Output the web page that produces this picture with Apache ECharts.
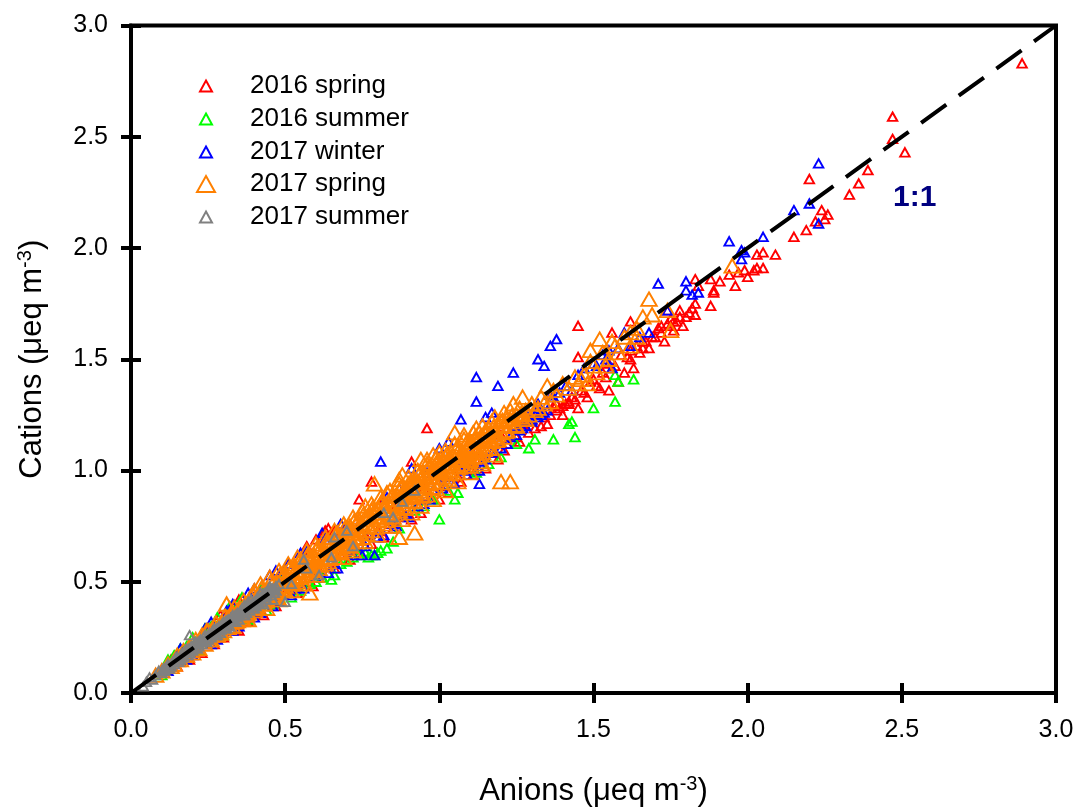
<!DOCTYPE html>
<html>
<head>
<meta charset="utf-8">
<style>html,body{margin:0;padding:0;background:#fff}#chart{width:1079px;height:811px}</style>
<script src="https://cdn.jsdelivr.net/npm/echarts@6/dist/echarts.min.js"></script>
</head>
<body>
<div id="chart"></div>
<script>
// [anions, cations]; the dense core is estimated
const spring2016 = [
  [2.89,2.83],[2.47,2.59],[2.47,2.49],[2.51,2.43],[2.39,2.35],[2.36,2.29],[2.33,2.24],[2.2,2.31],[2.24,2.17],[2.26,2.15],
  [2.22,2.12],[2.25,2.13],[2.19,2.08],[2.15,2.05],[2.09,1.97],[2.05,1.98],[2.03,1.97],[2.05,1.91],[2.03,1.91],[2.02,1.9],
  [1.99,1.9],[1.97,1.89],[2.0,1.87],[1.96,1.83],[1.94,1.88],[1.91,1.85],[1.88,1.86],[1.89,1.81],[1.89,1.8],[1.88,1.74],
  [1.83,1.75],[1.82,1.73],[1.83,1.7],[1.81,1.71],[1.83,1.86],[1.84,1.83],[1.8,1.69],[1.79,1.65],[1.78,1.72],[1.77,1.67],
  [1.76,1.63],[1.75,1.68],[1.74,1.72],[1.73,1.58],[1.72,1.65],[1.7,1.6],[1.68,1.55],[1.66,1.58],[1.65,1.53],[1.63,1.46],
  [1.62,1.67],[1.62,1.5],[1.6,1.44],[1.58,1.4],[1.56,1.62],[1.55,1.36],[1.54,1.42],[1.52,1.37],[1.5,1.41],[1.48,1.33],
  [1.46,1.36],[1.45,1.65],[1.45,1.51],[1.45,1.28],[1.43,1.33],[1.42,1.3],[1.4,1.25],[1.38,1.3],[1.35,1.21],[1.32,1.27],
  [1.3,1.23],[1.29,1.17],[1.27,1.21],[1.25,1.15],[1.24,1.19],[1.22,1.12],[1.2,1.16],[1.18,1.08],[1.16,1.12],[1.14,1.05],
  [1.12,1.09],[1.1,1.01],[1.08,1.05],[1.06,0.97],[1.04,1.01],[1.02,0.93],[0.99,0.96],[0.97,0.88],[0.96,1.19],[0.95,0.92],
  [0.93,0.85],[0.91,1.04],[0.9,0.87],[0.88,0.79],[0.86,0.84],[0.84,0.76],[0.82,0.87],[0.8,0.73],[0.78,0.95],[0.76,0.71],
  [0.74,0.87],[0.72,0.67],[0.7,0.75],[0.68,0.62],[0.65,0.72],[0.63,0.73],[0.61,0.55],[0.58,0.63],[0.56,0.5],[0.53,0.58],
  [0.5,0.45],[0.48,0.53],[0.45,0.41],[0.42,0.46],[0.4,0.36],[0.37,0.41],[0.34,0.31],[0.31,0.35],[0.28,0.25],[0.25,0.29],
  [0.22,0.2],[0.19,0.22],[0.16,0.14],[0.13,0.15],[0.1,0.09],
  // clusters under the line
  [1.78,1.69],[1.76,1.67],[1.75,1.65],[1.74,1.66],[1.72,1.62],[1.71,1.64],[1.69,1.6],[1.67,1.58],[1.66,1.55],[1.64,1.56],
  [1.62,1.54],[1.61,1.51],[1.59,1.52],[1.57,1.47],[1.55,1.48],[1.53,1.44],[1.51,1.38],[1.49,1.4],[1.47,1.35],[1.44,1.32],
  [1.42,1.31],[1.41,1.3],[1.4,1.29],[1.39,1.28],[1.38,1.27],[1.37,1.29],[1.36,1.25],[1.34,1.24],[1.33,1.2],[1.31,1.19],
  [1.26,1.13],[1.21,1.09],[1.19,1.05],[1.15,1.01],[1.11,0.98],[1.07,0.95],[1.03,0.9],[1.0,0.87],[0.94,0.81],[0.91,0.78],
  [0.85,0.74],[0.82,0.7],[0.78,0.67],[0.74,0.63],[0.71,0.6],[0.66,0.56],[0.62,0.52],[0.59,0.48],[0.54,0.45],[0.47,0.39],
  [0.43,0.35],[0.38,0.32],[0.35,0.28],[0.3,0.25],[0.27,0.22],[0.23,0.18],[0.19,0.15],[0.15,0.12],
  [0.64,0.74],[0.62,0.71],[0.6,0.69],[0.57,0.66],[0.66,0.73],[0.35,0.42],[0.33,0.39],[0.29,0.35]
];
const summer2016 = [
  [1.63,1.41],[1.58,1.4],[1.57,1.43],[1.57,1.31],[1.5,1.28],[1.44,1.15],[1.42,1.21],[1.43,1.22],[1.37,1.14],[1.31,1.14],
  [1.29,1.1],[1.25,1.12],[1.2,1.06],[1.16,1.03],[1.12,0.99],[1.06,0.9],[1.05,0.87],[1.0,0.78],[1.03,0.91],[0.98,0.87],
  [0.95,0.84],[0.92,0.82],[0.87,0.74],[0.85,0.68],[0.83,0.65],[0.8,0.63],[0.79,0.62],[0.76,0.63],[0.72,0.61],[0.68,0.58],
  [0.65,0.51],[0.62,0.52],[0.58,0.49],[0.55,0.46],[0.5,0.54],[0.46,0.4],[0.42,0.47],[0.38,0.33],[0.34,0.38],[0.3,0.26],
  [0.26,0.3],[0.22,0.19],[0.18,0.21],[0.14,0.17],[0.1,0.08],
  [0.81,0.64],[0.78,0.62],[0.77,0.61],[0.74,0.62],[0.7,0.59],[0.66,0.53],[0.6,0.5],[0.52,0.43],[0.48,0.41],[0.44,0.37],
  [0.36,0.43],[0.32,0.39],[0.28,0.34],[0.24,0.29],[0.2,0.25],[0.16,0.2],[0.12,0.15]
];
const winter2017 = [
  [2.23,2.38],[2.15,2.17],[2.2,2.2],[2.23,2.11],[2.05,2.05],[1.94,2.03],[1.98,1.99],[1.98,1.95],[1.99,1.98],[1.8,1.85],
  [1.8,1.81],[1.82,1.79],[1.84,1.8],[1.71,1.84],[1.74,1.72],[1.68,1.62],[1.65,1.6],[1.62,1.56],[1.6,1.62],[1.58,1.55],
  [1.56,1.46],[1.54,1.5],[1.5,1.48],[1.47,1.46],[1.45,1.43],[1.43,1.36],[1.38,1.59],[1.36,1.56],[1.36,1.34],[1.34,1.47],
  [1.32,1.5],[1.32,1.3],[1.3,1.22],[1.28,1.26],[1.26,1.18],[1.24,1.44],[1.24,1.2],[1.22,1.12],[1.19,1.38],[1.18,1.15],
  [1.17,1.26],[1.15,1.24],[1.15,1.05],[1.13,1.0],[1.13,0.94],[1.12,1.42],[1.12,1.31],[1.1,1.07],[1.08,1.0],[1.07,1.23],
  [1.06,1.02],[1.03,1.13],[1.02,0.97],[1.0,1.1],[0.98,0.91],[0.96,0.99],[0.93,0.84],[0.91,1.01],[0.89,0.8],[0.87,0.92],
  [0.85,0.76],[0.83,0.88],[0.81,1.04],[0.8,0.7],[0.79,0.62],[0.77,0.71],[0.75,0.62],[0.73,0.74],[0.71,0.64],[0.68,0.76],
  [0.66,0.58],[0.63,0.69],[0.6,0.52],[0.57,0.64],[0.54,0.47],[0.51,0.58],[0.48,0.41],[0.45,0.53],[0.42,0.36],[0.38,0.45],
  [0.35,0.3],[0.31,0.37],[0.28,0.24],[0.24,0.29],[0.2,0.17],[0.16,0.2],[0.12,0.1],
  // clusters under the line
  [1.35,1.27],[1.34,1.26],[1.33,1.25],[1.32,1.24],[1.31,1.25],[1.3,1.23],[1.29,1.22],[1.28,1.2],[1.27,1.19],[1.25,1.16],
  [1.23,1.15],[1.2,1.1],[1.17,1.08],[1.14,1.04],[1.11,1.01],[1.09,0.98],[1.05,0.94],[1.01,0.92],[0.97,0.87],[0.95,0.85],
  [0.9,0.79],[0.86,0.75],[0.82,0.71],[0.76,0.66],[0.72,0.62],[0.67,0.56],[0.64,0.54],[0.56,0.47],[0.52,0.44],[0.46,0.39],
  [0.4,0.34],[0.33,0.28],[0.26,0.22],[0.18,0.15],[0.62,0.72],[0.55,0.63],[0.47,0.55],[0.4,0.47],[0.33,0.4],[0.26,0.32],
  [1.55,1.54],[1.53,1.52],[1.51,1.47],[1.41,1.38],[1.39,1.35],[1.37,1.33]
];
const spring2017 = [
  [1.95,1.92],[1.68,1.77],[1.75,1.63],[1.74,1.72],[1.69,1.7],[1.66,1.69],[1.64,1.6],[1.62,1.56],[1.56,1.58],[1.55,1.5],
  [1.52,1.59],[1.5,1.47],[1.49,1.54],[1.48,1.39],[1.47,1.43],[1.45,1.39],[1.35,1.38],[1.34,1.3],[1.31,1.27],[1.29,1.25],
  [1.27,1.33],[1.26,1.24],[1.25,1.2],[1.23,1.27],[1.23,0.95],[1.22,1.18],[1.2,1.22],[1.2,0.95],[1.19,1.14],[1.18,1.18],
  [1.17,1.22],[1.16,1.1],[1.15,1.16],[1.14,1.2],[1.13,1.08],[1.12,1.13],[1.11,1.17],[1.1,1.05],[1.09,1.1],[1.08,1.14],
  [1.07,1.03],[1.06,1.08],[1.05,1.17],[1.05,1.12],[1.04,1.0],[1.03,1.05],[1.02,1.09],[1.01,0.97],[1.0,1.02],[0.99,1.06],
  [0.98,1.07],[0.98,0.95],[0.97,0.99],[0.96,1.03],[0.95,0.92],[0.94,1.05],[0.94,0.96],[0.93,1.0],[0.92,0.72],[0.92,0.89],
  [0.91,0.93],[0.9,0.97],[0.89,0.86],[0.88,0.98],[0.88,0.9],[0.87,0.7],[0.87,0.94],[0.86,0.84],[0.85,0.87],[0.84,0.91],
  [0.83,0.81],[0.82,0.84],[0.81,0.88],[0.8,0.78],[0.79,0.94],[0.79,0.82],[0.78,0.85],[0.77,0.75],[0.76,0.79],[0.75,0.82],
  [0.74,0.72],[0.73,0.76],[0.72,0.79],[0.71,0.69],[0.7,0.73],[0.69,0.76],[0.68,0.66],[0.67,0.7],[0.66,0.73],[0.65,0.63],
  [0.64,0.67],[0.63,0.7],[0.62,0.6],[0.61,0.64],[0.6,0.67],[0.59,0.57],[0.58,0.45],[0.58,0.61],[0.57,0.64],[0.56,0.54],
  [0.55,0.58],[0.54,0.61],[0.53,0.51],[0.52,0.55],[0.51,0.58],[0.5,0.48],[0.49,0.52],[0.48,0.55],[0.47,0.45],[0.46,0.49],
  [0.45,0.52],[0.44,0.42],[0.43,0.46],[0.42,0.49],[0.41,0.39],[0.4,0.46],[0.39,0.43],[0.38,0.36],[0.37,0.4],[0.36,0.34],
  [0.35,0.38],[0.34,0.32],[0.33,0.36],[0.32,0.3],[0.31,0.4],[0.31,0.33],[0.3,0.28],[0.29,0.31],[0.28,0.26],[0.27,0.3],
  [0.26,0.24],[0.25,0.28],[0.24,0.22],[0.23,0.26],[0.22,0.2],[0.21,0.24],[0.2,0.18],[0.19,0.21],[0.18,0.17],[0.17,0.19],
  [0.16,0.15],[0.15,0.17],[0.14,0.13],[0.12,0.13],[0.1,0.1],[0.08,0.08],
  // second pass through the solid band
  [1.28,1.27],[1.27,1.23],[1.25,1.25],[1.24,1.22],[1.23,1.2],[1.22,1.23],[1.21,1.2],[1.2,1.17],[1.19,1.2],[1.18,1.15],
  [1.17,1.17],[1.16,1.14],[1.15,1.12],[1.14,1.14],[1.13,1.11],[1.12,1.09],[1.11,1.11],[1.1,1.08],[1.09,1.06],[1.08,1.08],
  [1.07,1.05],[1.06,1.03],[1.05,1.05],[1.04,1.03],[1.03,1.0],[1.02,1.02],[1.01,0.99],[1.0,0.97],[0.99,1.0],[0.98,0.97],
  [0.97,0.94],[0.96,0.96],[0.95,0.93],[0.94,0.91],[0.93,0.93],[0.92,0.9],[0.91,0.88],[0.9,0.9],[0.89,0.88],[0.88,0.85],
  [0.87,0.87],[0.86,0.85],[0.85,0.82],[0.84,0.84],[0.83,0.82],[0.82,0.79],[0.81,0.81],[0.8,0.79],[0.79,0.76],[0.78,0.78],
  [0.77,0.76],[0.76,0.73],[0.75,0.75],[0.74,0.73],[0.73,0.7],[0.72,0.72],[0.71,0.7],[0.7,0.67],[0.69,0.69],[0.68,0.67],
  [0.67,0.64],[0.66,0.66],[0.65,0.64],[0.64,0.61],[0.63,0.63],[0.62,0.61],[0.61,0.58],[0.6,0.6],[0.59,0.58],[0.58,0.55],
  [0.57,0.57],[0.56,0.55],[0.55,0.52],[0.54,0.54],[0.53,0.52],[0.52,0.49],[0.51,0.51],[0.5,0.5],[0.49,0.47],[0.48,0.48],
  [0.47,0.47],[0.46,0.44],[0.45,0.45],[0.44,0.44],[0.43,0.41],[0.42,0.42],[0.41,0.41],[0.4,0.38],[0.39,0.39],[0.38,0.38],
  [0.37,0.35],[0.36,0.36],[0.35,0.35],[0.34,0.33],[0.33,0.33],[0.32,0.32],[0.3,0.3],[0.29,0.28],[0.28,0.28],[0.27,0.27],
  [0.25,0.25],[0.23,0.23],[0.21,0.21],[0.19,0.19],[0.17,0.17],[0.15,0.15],[0.13,0.12],
  [1.16,1.19],[1.13,1.17],[1.09,1.13],[1.06,1.11],[1.02,1.06],[0.99,1.03],[0.95,0.99],[0.92,0.96],[0.88,0.93],[0.85,0.89],
  [0.81,0.85],[0.78,0.82],[0.74,0.78],[0.71,0.75],[0.67,0.72],[0.64,0.68],[0.6,0.64],[0.57,0.61],[0.53,0.57],[0.5,0.54],
  [1.13,1.04],[1.1,1.02],[1.06,0.99],[1.03,0.96],[0.99,0.92],[0.96,0.89],[0.92,0.86],[0.89,0.83],[0.85,0.79],[0.82,0.76],
  [0.78,0.73],[0.75,0.7],[0.71,0.66],[0.68,0.63],[0.64,0.59],[0.61,0.56],[0.57,0.53],[0.54,0.5],[0.5,0.46],[0.47,0.43],
  [0.43,0.4],[0.4,0.37],[0.36,0.33],[0.33,0.3],[0.29,0.27],
  // third pass, gaps between the rows above
  [1.265,1.255],[1.245,1.205],[1.235,1.245],[1.215,1.175],[1.205,1.225],[1.185,1.135],[1.175,1.195],[1.155,1.175],[1.145,1.095],[1.135,1.155],
  [1.125,1.065],[1.115,1.145],[1.105,1.125],[1.095,1.045],[1.085,1.115],[1.075,1.085],[1.065,1.015],[1.055,1.095],[1.045,1.065],[1.035,0.985],
  [1.025,1.075],[1.015,1.035],[1.005,0.945],[0.995,1.045],[0.985,1.015],[0.975,0.925],[0.965,1.015],[0.955,0.975],[0.945,0.885],[0.935,0.985],
  [0.925,0.945],[0.915,0.865],[0.905,0.945],[0.895,0.915],[0.885,0.835],[0.875,0.925],[0.865,0.885],[0.855,0.805],[0.845,0.885],[0.835,0.855],
  [0.825,0.775],[0.815,0.865],[0.805,0.825],[0.795,0.745],[0.785,0.835],[0.775,0.795],[0.765,0.715],[0.755,0.805],[0.745,0.765],[0.735,0.695],
  [0.725,0.775],[0.715,0.735],[0.705,0.665],[0.695,0.745],[0.685,0.705],[0.675,0.635],[0.665,0.715],[0.655,0.675],[0.645,0.605],[0.635,0.685],
  [0.625,0.645],[0.615,0.575],[0.605,0.655],[0.595,0.615],[0.585,0.555],[0.575,0.625],[0.565,0.585],[0.555,0.525],[0.545,0.595],[0.535,0.555],
  [0.525,0.495],[0.515,0.565],[0.505,0.525],[0.495,0.465],[0.485,0.535],[0.475,0.495],[0.465,0.435],[0.455,0.505],[0.445,0.465],[0.435,0.415],
  [0.425,0.475],[0.415,0.435],[0.405,0.385],[0.395,0.445],[0.385,0.405],[0.375,0.355],[0.365,0.415],[0.355,0.375],[0.345,0.325],[0.335,0.385],
  [0.325,0.345],[0.315,0.295],[0.305,0.345],[0.295,0.315],[0.285,0.27],[0.275,0.315],[0.265,0.285],[0.255,0.24],[0.245,0.28],[0.235,0.25],
  [1.21,1.15],[1.17,1.13],[1.14,1.08],[1.1,1.13],[1.07,1.07],[1.04,1.08],[1.01,1.05],[0.97,1.02],[0.94,0.9],[0.9,0.94],
  [0.87,0.82],[0.84,0.8],[0.8,0.83],[0.77,0.8],[0.73,0.68],[0.7,0.65],[0.66,0.61],[0.63,0.58],[0.59,0.55],[0.55,0.6],
  [1.26,1.28],[1.23,1.23],[1.19,1.16],[1.15,1.18],[1.11,1.06],[1.08,1.02],[1.03,1.03],[0.98,0.99],[0.93,0.95],[0.89,0.91],
  // upper part of the band and its edges
  [1.64,1.64],[1.62,1.62],[1.6,1.6],[1.58,1.53],[1.57,1.56],[1.54,1.47],[1.53,1.53],[1.51,1.44],[1.49,1.49],[1.46,1.41],
  [1.44,1.42],[1.42,1.37],[1.4,1.39],[1.38,1.34],[1.37,1.36],[1.36,1.31],[1.33,1.33],[1.32,1.28],[1.3,1.3],[1.28,1.23],
  [1.24,1.3],[1.21,1.26],[1.18,1.24],[1.12,1.19],[1.08,1.16],[1.0,1.08],[0.96,1.05],[0.87,0.96],[0.83,0.9],[0.76,0.84],
  [0.69,0.61],[0.72,0.64],[0.76,0.68],[0.8,0.71],[0.84,0.75],[0.88,0.78],[0.91,0.81],[0.94,0.84],[0.98,0.87],[1.02,0.91],
  [1.06,0.95],[1.1,0.99],[1.14,1.03],[1.18,1.07],[0.6,0.53],[0.56,0.49],[0.52,0.46],[0.48,0.42],[0.44,0.38],[0.38,0.33]
];
const summer2017 = [
  [0.92,0.91],[0.88,0.86],[0.85,0.79],[0.82,0.81],[0.72,0.66],[0.7,0.73],[0.66,0.7],[0.65,0.61],[0.61,0.53],[0.57,0.56],
  [0.56,0.6],[0.52,0.49],[0.5,0.41],[0.48,0.49],[0.47,0.46],[0.46,0.42],[0.45,0.48],[0.44,0.44],[0.43,0.4],[0.42,0.45],
  [0.41,0.41],[0.4,0.38],[0.39,0.42],[0.38,0.39],[0.37,0.35],[0.36,0.38],[0.35,0.35],[0.34,0.32],[0.33,0.35],[0.32,0.32],
  [0.31,0.29],[0.3,0.32],[0.29,0.29],[0.28,0.26],[0.27,0.29],[0.26,0.26],[0.25,0.24],[0.24,0.26],[0.23,0.23],[0.22,0.21],
  [0.21,0.23],[0.2,0.2],[0.19,0.26],[0.19,0.18],[0.18,0.2],[0.17,0.17],[0.16,0.15],[0.15,0.16],[0.14,0.14],[0.13,0.12],
  [0.12,0.13],[0.11,0.11],[0.1,0.09],[0.09,0.1],[0.08,0.08],[0.07,0.06],[0.06,0.07],[0.05,0.05],[0.04,0.03],
  // gray covers the band up to about 0.47
  [0.47,0.48],[0.465,0.45],[0.46,0.47],[0.455,0.44],[0.45,0.45],[0.445,0.46],[0.44,0.42],[0.435,0.45],[0.43,0.43],[0.425,0.41],
  [0.42,0.43],[0.415,0.4],[0.41,0.43],[0.405,0.39],[0.4,0.41],[0.395,0.38],[0.39,0.4],[0.385,0.37],[0.38,0.41],[0.375,0.36],
  [0.37,0.38],[0.365,0.35],[0.36,0.36],[0.355,0.37],[0.35,0.33],[0.345,0.36],[0.34,0.34],[0.335,0.32],[0.33,0.33],[0.325,0.34],
  [0.32,0.3],[0.315,0.33],[0.31,0.31],[0.305,0.29],[0.3,0.3],[0.295,0.31],[0.29,0.27],[0.285,0.3],[0.28,0.28],[0.275,0.26],
  [0.27,0.27],[0.265,0.28],[0.26,0.25],[0.255,0.27],[0.25,0.25],[0.245,0.23],[0.24,0.24],[0.235,0.25],[0.23,0.22],[0.225,0.24],
  [0.22,0.22],[0.215,0.2],[0.21,0.21],[0.205,0.22],[0.2,0.19],[0.195,0.21],[0.19,0.19],[0.185,0.17],[0.18,0.18],[0.175,0.19],
  [0.17,0.16],[0.165,0.18],[0.16,0.16],[0.155,0.14],[0.15,0.15],[0.145,0.16],[0.14,0.13],[0.135,0.14],[0.13,0.13],[0.125,0.11],
  [0.12,0.12],[0.115,0.12],[0.11,0.1],[0.105,0.11],[0.1,0.1],
  [0.468,0.465],[0.452,0.465],[0.438,0.435],[0.428,0.445],[0.412,0.415],[0.398,0.395],[0.382,0.385],[0.368,0.395],[0.352,0.35],[0.338,0.35],
  [0.322,0.32],[0.308,0.325],[0.292,0.285],[0.278,0.29],[0.262,0.265],[0.248,0.26],[0.232,0.235],[0.218,0.23],[0.202,0.205],[0.188,0.2]
];
const oneToOne = [[0, 0], [3, 3]];
const ticks = { min: 0, max: 3, interval: 0.5 };

const chart = echarts.init(document.getElementById("chart"));

const scatter = (name, color, data, size) => ({
  name,
  type: "scatter",
  data,
  symbol: "triangle",
  symbolSize: size,
  itemStyle: { color: "transparent", borderColor: color, borderWidth: 1.9, opacity: 1 },
  silent: true,
  animation: false,
});

const nameRich = {
  a: { fontFamily: "Liberation Sans", fontSize: 31, color: "#000" },
  s: { fontFamily: "Liberation Sans", fontSize: 20, color: "#000", padding: [0, 0, 15, 0] },
};

const outerAxis = (name, gap, rotate, margin, pad) => ({
  ...ticks,
  type: "value",
  name,
  nameLocation: "middle",
  nameGap: gap,
  nameRotate: rotate,
  nameTextStyle: { rich: nameRich },
  splitLine: { show: false },
  axisLine: { lineStyle: { color: "#000", width: 4 } },
  axisTick: { length: 10, lineStyle: { color: "#000", width: 4 } },
  axisLabel: {
    color: "#000", fontFamily: "Liberation Sans", fontSize: 25,
    margin, padding: pad, formatter: (v) => v.toFixed(1),
  },
});

// second axis only to get the inward half of the crossing ticks
const innerAxis = () => ({
  ...ticks,
  type: "value",
  splitLine: { show: false },
  axisLine: { show: false },
  axisLabel: { show: false },
  axisTick: { inside: true, length: 10, lineStyle: { color: "#000", width: 4 } },
});

const legendBase = {
  orient: "vertical",
  selectedMode: false,
  itemGap: 7,
  textStyle: { color: "#000", fontFamily: "Liberation Sans", fontSize: 26 },
};

chart.setOption({
  animation: false,
  backgroundColor: "#fff",
  grid: {
    left: 131, right: 23, top: 25.5, bottom: 118,
    outerBoundsMode: "none",
    show: true, borderColor: "#000", borderWidth: 4, backgroundColor: "transparent",
  },
  xAxis: [
    { ...outerAxis("{a|Anions (μeq m}{s|-3}{a|)}", 81, 0, 25, 0), position: "bottom" },
    { ...innerAxis(), position: "bottom" },
  ],
  yAxis: [
    { ...outerAxis("{a|Cations (μeq m}{s|-3}{a|)}", 81, 90, 23, [12, 0, 0, 0]), position: "left" },
    { ...innerAxis(), position: "left" },
  ],
  legend: [
    {
      ...legendBase, left: 194, top: 68, itemWidth: 12, itemHeight: 11,
      data: ["2016 spring", "2016 summer", "2017 winter"],
      textStyle: { ...legendBase.textStyle, padding: [0, 0, 0, 33] },
    },
    {
      ...legendBase, left: 191, top: 166, itemWidth: 18, itemHeight: 16,
      data: ["2017 spring"],
      textStyle: { ...legendBase.textStyle, padding: [0, 0, 0, 30] },
    },
    {
      ...legendBase, left: 194, top: 199, itemWidth: 12, itemHeight: 11,
      data: ["2017 summer"],
      textStyle: { ...legendBase.textStyle, padding: [0, 0, 0, 33] },
    },
  ],
  graphic: [{
    type: "text", left: 893, top: 183, silent: true,
    style: { text: "1:1", fill: "#000080", font: "bold 30px 'Liberation Sans'" },
  }],
  series: [
    scatter("2016 spring", "#ff0000", spring2016, [9.5, 8.5]),
    scatter("2016 summer", "#00ff00", summer2016, [9.5, 8.5]),
    scatter("2017 winter", "#0000ff", winter2017, [9.5, 8.5]),
    scatter("2017 spring", "#ff8000", spring2017, [15.5, 13.5]),
    scatter("2017 summer", "#808080", summer2017, [9.5, 8.5]),
    {
      type: "line",
      data: oneToOne,
      symbol: "none",
      silent: true,
      z: 5,
      lineStyle: { color: "#000", width: 4, type: [31, 15.4] },
    },
  ],
});
</script>
</body>
</html>
